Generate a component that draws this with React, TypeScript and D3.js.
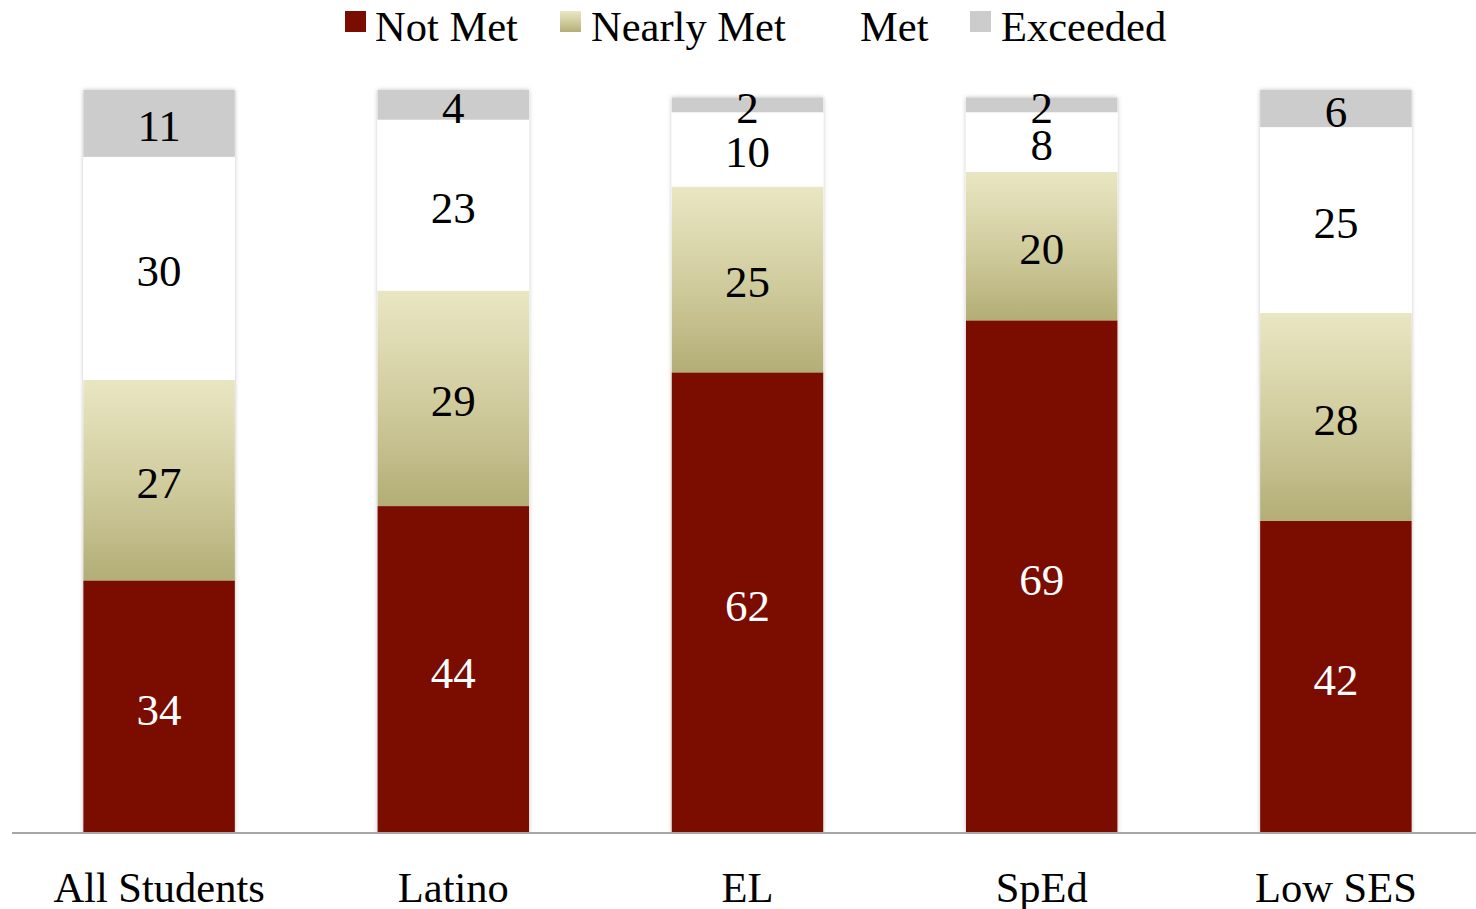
import React from "react";
import * as d3 from "d3";

const categories = ["All Students", "Latino", "EL", "SpEd", "Low SES"];
const seriesNames = ["Not Met", "Nearly Met", "Met", "Exceeded"];
const notMet = [34, 44, 62, 69, 42];
const nearlyMet = [27, 29, 25, 20, 28];
const met = [30, 23, 10, 8, 25];
const exceeded = [11, 4, 2, 2, 6];
const yDomain = [0, 100];

const W = 1476;
const H = 909;
const FONT = "'Liberation Serif', 'Times New Roman', serif";

export default function App() {
  const values = [notMet, nearlyMet, met, exceeded];
  const x = d3.scaleBand<string>().domain(categories).range([12, 1483]).paddingInner(0.485).paddingOuter(0.2425);
  const y = d3.scaleLinear().domain(yDomain).range([833, 90]).clamp(true);
  const fills = ["#7a0c00", "url(#nearGrad)", "#ffffff", "#cccccc"];
  const textFill = ["#ffffff", "#000000", "#000000", "#000000"];

  const rows = categories.map((c, i) => {
    let acc = 0;
    return seriesNames.map((s, k) => {
      const v = values[k][i];
      const y0 = acc;
      acc += v;
      return { c, s, k, v, y0, y1: acc };
    });
  });

  const legend = [
    { name: "Not Met", sq: 345, tx: 375, fill: fills[0] },
    { name: "Nearly Met", sq: 560, tx: 591, fill: fills[1] },
    { name: "Met", sq: 837, tx: 860, fill: fills[2] },
    { name: "Exceeded", sq: 970, tx: 1001, fill: fills[3] },
  ];

  return (
    <svg width={W} height={H} style={{ position: "absolute", left: 0, top: 0, background: "#fff" }}>
      <defs>
        <linearGradient id="nearGrad" x1="0" y1="0" x2="0" y2="1">
          <stop offset="0" stopColor="#e9e6c3" />
          <stop offset="0.5" stopColor="#d2cd9f" />
          <stop offset="1" stopColor="#b3ae76" />
        </linearGradient>
        <filter id="barShadow" x="-10%" y="-5%" width="120%" height="110%">
          <feDropShadow dx="0" dy="0" stdDeviation="2" floodColor="#000" floodOpacity="0.25" />
        </filter>
        <clipPath id="plotClip">
          <rect x={0} y={0} width={W} height={833} />
        </clipPath>
      </defs>

      {rows.map((segs, i) => {
        const bx = x(categories[i])!;
        const bw = x.bandwidth();
        const top = y(segs[segs.length - 1].y1);
        return (
          <g key={categories[i]}>
            <rect x={bx} y={top} width={bw} height={833 - top} fill="#fff" filter="url(#barShadow)" clipPath="url(#plotClip)" />
            {segs.map((d) => {
              const yt = y(d.y1);
              const yb = y(d.y0);
              return (
                <rect key={d.s} x={bx} y={yt} width={bw} height={Math.max(0, yb - yt)} fill={fills[d.k]} />
              );
            })}
          </g>
        );
      })}

      <line x1={12} x2={1476} y1={833} y2={833} stroke="#a6a6a6" strokeWidth={2} />

      {rows.map((segs, i) =>
        segs.map((d) => {
          const cx = x(categories[i])! + x.bandwidth() / 2;
          const cy = (y(d.y0) + y(d.y1)) / 2;
          return (
            <text key={categories[i] + d.s} x={cx} y={cy + 3} textAnchor="middle" dominantBaseline="central"
              fontFamily={FONT} fontSize={45} fill={textFill[d.k]}>
              {d.v}
            </text>
          );
        })
      )}

      {categories.map((c) => (
        <text key={c} x={x(c)! + x.bandwidth() / 2} y={902} textAnchor="middle" fontFamily={FONT} fontSize={42.5} fill="#000">
          {c}
        </text>
      ))}

      {legend.map((l) => (
        <g key={l.name}>
          <rect x={l.sq} y={11} width={21} height={21} fill={l.fill} />
          <text x={l.tx} y={41} fontFamily={FONT} fontSize={42.5} fill="#000">{l.name}</text>
        </g>
      ))}
    </svg>
  );
}
